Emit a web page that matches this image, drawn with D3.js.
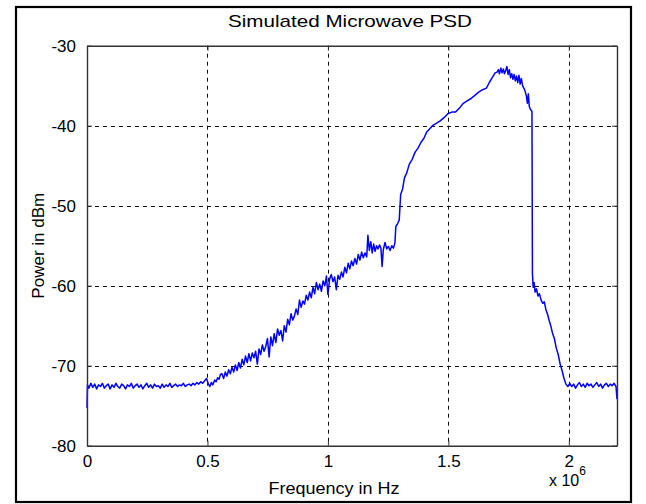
<!DOCTYPE html>
<html>
<head>
<meta charset="utf-8">
<script src="https://cdn.jsdelivr.net/npm/d3@7"></script>
<style>
  html, body { margin: 0; padding: 0; background: #fff; }
  svg { display: block; }
  text { font-family: "Liberation Sans", Arial, sans-serif; fill: #000; }
</style>
</head>
<body>
<svg id="chart" width="646" height="504"></svg>
<script>
// Tick values (frequency in units of 1e6 Hz, power in dBm)
const xTicks = [0, 0.5, 1, 1.5, 2];
const yTicks = [-80, -70, -60, -50, -40, -30];
const xDomain = [0, 2.2];
const yDomain = [-80, -30];

const titleText = "Simulated Microwave PSD";
const xLabelText = "Frequency in Hz";
const yLabelText = "Power in dBm";

// Power spectral density samples: [frequency (x 1e6 Hz), power (dBm)]
const psd = [
  [0.000, -75.3], [0.002, -72.4], [0.008, -72.8], [0.016, -72.2], [0.024, -72.7],
  [0.032, -72.3], [0.040, -72.9], [0.048, -72.4], [0.056, -72.6], [0.064, -72.2],
  [0.072, -72.8], [0.080, -72.5], [0.088, -72.3], [0.096, -72.9], [0.104, -72.4],
  [0.112, -72.7], [0.120, -72.2], [0.128, -72.6], [0.136, -72.8], [0.144, -72.3],
  [0.152, -72.5], [0.160, -72.9], [0.168, -72.4], [0.176, -72.6], [0.184, -72.2],
  [0.192, -72.8], [0.200, -72.5], [0.208, -72.3], [0.216, -72.7], [0.224, -72.4],
  [0.232, -72.9], [0.240, -72.5], [0.248, -72.2], [0.256, -72.7], [0.264, -72.4],
  [0.272, -72.8], [0.280, -72.3], [0.288, -72.6], [0.296, -72.5], [0.304, -72.8],
  [0.312, -72.3], [0.320, -72.7], [0.328, -72.4], [0.336, -72.6], [0.344, -72.2],
  [0.352, -72.7], [0.360, -72.5], [0.368, -72.3], [0.376, -72.6], [0.384, -72.4],
  [0.392, -72.5], [0.400, -72.2], [0.408, -72.6], [0.416, -72.4], [0.424, -72.3],
  [0.432, -72.5], [0.440, -72.2], [0.448, -72.4], [0.456, -72.1], [0.464, -72.3],
  [0.472, -72.0], [0.480, -72.2], [0.488, -71.9], [0.496, -71.6], [0.504, -72.3],
  [0.510, -72.6], [0.516, -72.1], [0.522, -72.4], [0.530, -71.8], [0.536, -72.0],
  [0.542, -71.5], [0.548, -71.7], [0.554, -71.1], [0.560, -71.0], [0.567, -71.6],
  [0.574, -70.8], [0.581, -71.3], [0.588, -70.5], [0.595, -71.0], [0.602, -70.2],
  [0.609, -70.8], [0.616, -69.9], [0.623, -70.6], [0.630, -69.6], [0.637, -70.3],
  [0.644, -69.2], [0.651, -69.9], [0.658, -68.8], [0.665, -69.6], [0.672, -68.5],
  [0.679, -69.4], [0.686, -68.4], [0.693, -69.0], [0.700, -68.2], [0.707, -69.8],
  [0.714, -67.9], [0.721, -68.6], [0.728, -67.4], [0.735, -68.2], [0.742, -67.6],
  [0.749, -66.6], [0.756, -68.9], [0.763, -66.4], [0.770, -67.5], [0.777, -66.0],
  [0.784, -67.1], [0.791, -65.4], [0.798, -66.2], [0.805, -65.6], [0.812, -66.9],
  [0.819, -65.0], [0.826, -65.8], [0.833, -64.2], [0.840, -64.9], [0.847, -63.5],
  [0.854, -64.3], [0.861, -63.8], [0.868, -62.9], [0.875, -63.6], [0.882, -61.8],
  [0.889, -62.7], [0.896, -61.9], [0.903, -62.3], [0.910, -61.2], [0.917, -61.8],
  [0.924, -60.8], [0.931, -61.5], [0.938, -60.2], [0.945, -61.0], [0.952, -59.6],
  [0.959, -60.5], [0.966, -59.8], [0.973, -60.7], [0.980, -59.4], [0.987, -60.0],
  [0.994, -58.8], [1.000, -61.1], [1.007, -59.2], [1.014, -58.6], [1.021, -59.5],
  [1.028, -58.9], [1.035, -60.5], [1.042, -58.7], [1.049, -59.2], [1.056, -58.3],
  [1.063, -58.9], [1.070, -57.7], [1.077, -58.4], [1.084, -57.2], [1.091, -57.9],
  [1.098, -56.9], [1.105, -57.5], [1.112, -56.6], [1.119, -57.3], [1.126, -56.1],
  [1.133, -56.8], [1.140, -55.8], [1.147, -56.5], [1.154, -55.9], [1.161, -56.4],
  [1.166, -53.7], [1.172, -55.6], [1.178, -54.5], [1.184, -55.9], [1.190, -54.8],
  [1.196, -55.7], [1.202, -55.0], [1.208, -55.4], [1.214, -54.9], [1.220, -55.3],
  [1.225, -57.6], [1.230, -55.5], [1.237, -54.6], [1.244, -55.4], [1.251, -55.1],
  [1.258, -55.6], [1.265, -55.0], [1.272, -55.3], [1.278, -54.7], [1.282, -52.6],
  [1.290, -52.2], [1.296, -51.8], [1.302, -48.6], [1.310, -47.9], [1.318, -46.5],
  [1.326, -46.0], [1.338, -44.8], [1.350, -44.2], [1.362, -43.3], [1.374, -42.8],
  [1.386, -42.1], [1.398, -41.6], [1.410, -40.8], [1.422, -40.4], [1.434, -40.0],
  [1.450, -39.7], [1.466, -39.4], [1.482, -39.0], [1.498, -38.5], [1.514, -38.3],
  [1.530, -38.3], [1.546, -37.8], [1.562, -37.2], [1.578, -36.9], [1.594, -36.6],
  [1.610, -36.2], [1.626, -35.8], [1.642, -35.5], [1.658, -35.3], [1.670, -34.6],
  [1.682, -34.0], [1.694, -33.4], [1.702, -33.3], [1.708, -33.0], [1.712, -33.5],
  [1.718, -32.8], [1.723, -33.4], [1.728, -32.9], [1.733, -33.5], [1.738, -33.1],
  [1.743, -32.6], [1.748, -33.6], [1.753, -33.0], [1.758, -34.0], [1.763, -33.5],
  [1.768, -34.2], [1.773, -33.6], [1.778, -34.4], [1.783, -33.8], [1.788, -34.6],
  [1.793, -33.7], [1.798, -34.8], [1.803, -34.1], [1.808, -35.0], [1.813, -35.3],
  [1.818, -35.6], [1.824, -36.3], [1.828, -37.2], [1.832, -36.0], [1.836, -37.6],
  [1.840, -37.9], [1.844, -38.1], [1.847, -38.2], [1.849, -58.5], [1.852, -60.2],
  [1.856, -59.6], [1.860, -60.8], [1.866, -60.4], [1.872, -61.3], [1.878, -61.0],
  [1.885, -61.8], [1.892, -62.2], [1.898, -62.0], [1.905, -63.0], [1.912, -63.6],
  [1.918, -64.3], [1.925, -65.0], [1.932, -65.9], [1.940, -66.6], [1.948, -67.8],
  [1.956, -68.6], [1.964, -69.8], [1.972, -70.6], [1.980, -71.6], [1.988, -72.3],
  [1.996, -72.6], [2.004, -72.2], [2.012, -72.6], [2.020, -72.3], [2.028, -72.8],
  [2.036, -72.4], [2.044, -72.1], [2.052, -72.6], [2.060, -72.3], [2.068, -72.7],
  [2.076, -72.2], [2.084, -72.5], [2.092, -72.3], [2.100, -72.7], [2.108, -72.4],
  [2.116, -72.1], [2.124, -72.6], [2.132, -72.3], [2.140, -72.8], [2.148, -72.4],
  [2.156, -72.2], [2.164, -72.6], [2.172, -72.3], [2.180, -72.5], [2.188, -72.2],
  [2.196, -72.6], [2.200, -74.2]
];

const svg = d3.select("#chart");
const plot = { left: 87, right: 617, top: 45.7, bottom: 445.7 };

const x = d3.scaleLinear().domain(xDomain).range([plot.left, plot.right]);
const y = d3.scaleLinear().domain(yDomain).range([plot.bottom, plot.top]);

// Figure frame
svg.append("rect")
  .attr("x", 16).attr("y", 7).attr("width", 615).attr("height", 495)
  .attr("fill", "#fff").attr("stroke", "#000").attr("stroke-width", 2.2);

// Dashed grid
const grid = svg.append("g").attr("stroke", "#111").attr("stroke-width", 1)
  .attr("stroke-dasharray", "4,4");
grid.selectAll("line.vx").data(xTicks.filter(d => d > xDomain[0] && d < xDomain[1]))
  .join("line").attr("class", "vx")
  .attr("x1", d => Math.round(x(d)) + 0.5).attr("x2", d => Math.round(x(d)) + 0.5)
  .attr("y1", plot.top).attr("y2", plot.bottom);
grid.selectAll("line.hy").data(yTicks.filter(d => d > yDomain[0] && d < yDomain[1]))
  .join("line").attr("class", "hy")
  .attr("y1", d => Math.round(y(d)) + 0.5).attr("y2", d => Math.round(y(d)) + 0.5)
  .attr("x1", plot.left).attr("x2", plot.right);

// PSD trace
const line = d3.line().x(d => x(d[0])).y(d => y(d[1]));
svg.append("path")
  .datum(psd)
  .attr("d", line)
  .attr("fill", "none")
  .attr("stroke", "#0000ff")
  .attr("stroke-width", 1.5)
  .attr("stroke-linejoin", "round");

// Axes (inward ticks, box on all sides); labels use a plain hyphen for negatives
const fontSize = 17;
const plain = d => String(d);
const xAxis = svg.append("g")
  .attr("transform", `translate(0,${plot.bottom})`)
  .call(d3.axisBottom(x).tickValues(xTicks).tickFormat(plain).tickSizeInner(-5).tickSizeOuter(0).tickPadding(9));
const yAxis = svg.append("g")
  .attr("transform", `translate(${plot.left},0)`)
  .call(d3.axisLeft(y).tickValues(yTicks).tickFormat(plain).tickSizeInner(-5).tickSizeOuter(0).tickPadding(11));
const xAxisTop = svg.append("g")
  .attr("transform", `translate(0,${plot.top})`)
  .call(d3.axisTop(x).tickValues(xTicks).tickFormat("").tickSizeInner(-5).tickSizeOuter(0));
const yAxisRight = svg.append("g")
  .attr("transform", `translate(${plot.right},0)`)
  .call(d3.axisRight(y).tickValues(yTicks).tickFormat("").tickSizeInner(-5).tickSizeOuter(0));

[xAxis, yAxis, xAxisTop, yAxisRight].forEach(g => {
  g.select(".domain").attr("stroke", "#333").attr("stroke-width", 1.4);
  g.selectAll(".tick line").attr("stroke", "#333");
  g.selectAll("text").attr("font-family", "Liberation Sans, Arial, sans-serif")
    .attr("font-size", fontSize).attr("fill", "#000");
});
xAxis.selectAll("text").attr("dy", "0.71em");

// Exponent annotation for the frequency axis
const expo = svg.append("text")
  .attr("x", 549).attr("y", 486)
  .attr("font-size", 16);
expo.append("tspan").text("x 10");
expo.append("tspan").attr("dy", -11).attr("font-size", 12).text("6");

// Title and axis labels
svg.append("text")
  .attr("x", (plot.left + plot.right) / 2 - 2).attr("y", 27)
  .attr("text-anchor", "middle")
  .attr("font-size", fontSize)
  .attr("textLength", 244).attr("lengthAdjust", "spacingAndGlyphs")
  .text(titleText);

svg.append("text")
  .attr("x", 334).attr("y", 494)
  .attr("text-anchor", "middle")
  .attr("font-size", fontSize)
  .attr("textLength", 131).attr("lengthAdjust", "spacingAndGlyphs")
  .text(xLabelText);

svg.append("text")
  .attr("transform", `translate(44,${(plot.top + plot.bottom) / 2}) rotate(-90)`)
  .attr("text-anchor", "middle")
  .attr("font-size", fontSize)
  .attr("textLength", 106).attr("lengthAdjust", "spacingAndGlyphs")
  .text(yLabelText);
</script>
</body>
</html>
